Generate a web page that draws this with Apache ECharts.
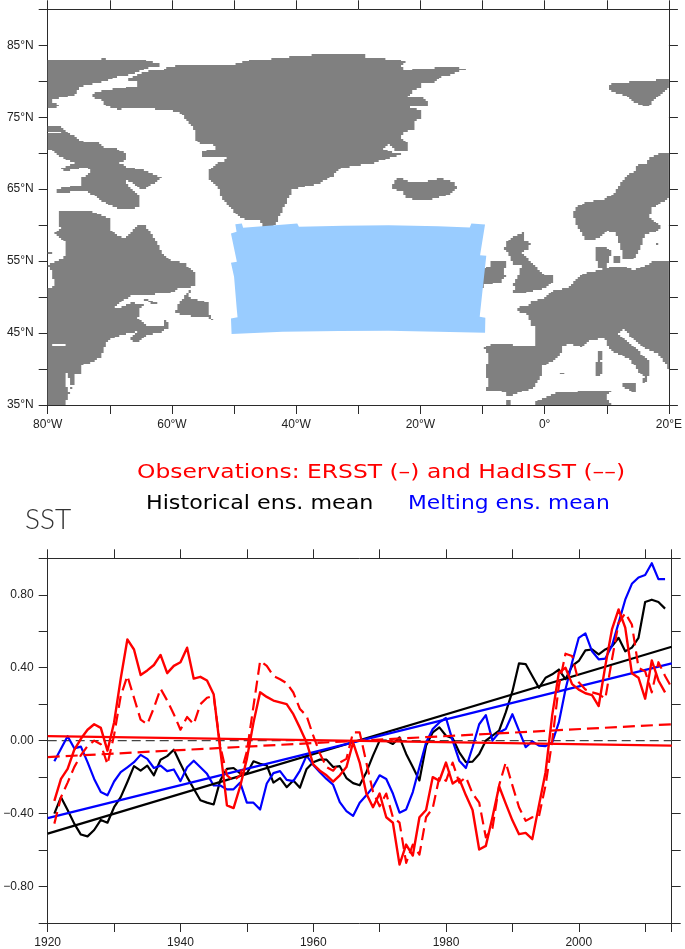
<!DOCTYPE html>
<html>
<head>
<meta charset="utf-8">
<style>html,body{margin:0;padding:0;background:#fff}#c{width:685px;height:949px}</style>
<script src="https://cdn.jsdelivr.net/npm/echarts@6/dist/echarts.min.js"></script>
</head>
<body>
<div id="c"></div>
<script>
// ---------- land outlines, [lon, lat] ----------
const ellesmere=[[-80,83.06],[-71.35,83.06],[-71.08,83.33],[-70.28,83.06],[-64.13,82.96],[-63.87,82.73],[-62,82.5],[-61.6,82.18],[-62.5,82.04],[-64.13,81.8],[-65.2,81.34],[-67.07,80.88],[-69.2,80.56],[-70.8,79.95],[-72.4,79.72],[-74.8,79.26],[-75.6,78.1],[-79.1,77.5],[-79.36,76.94],[-78.3,76.85],[-78.3,76.4],[-80,76.25]];
const greenland=[[-60.66,82.04],[-57.46,82.27],[-53.98,82.36],[-51.05,82.13],[-48.1,82.73],[-47.04,82.96],[-44.1,83.06],[-43.84,83.33],[-37.7,83.43],[-37.43,83.66],[-33.15,83.66],[-29,83.66],[-28.9,83.33],[-25.67,83.2],[-25.6,82.96],[-23,82.87],[-22.3,82.5],[-23.3,82.27],[-22.5,81.44],[-20.86,81.7],[-17.9,81.7],[-17.66,82],[-13.9,81.94],[-12.6,81.57],[-13.9,81.34],[-15.25,80.88],[-16.6,80.74],[-17.4,80.2],[-17.9,79.8],[-19.8,79.8],[-20.06,79.03],[-21.1,78.8],[-21.9,77.87],[-19.8,77.87],[-18.7,77.18],[-18.7,76.57],[-19.5,76.5],[-21.9,76.5],[-19.8,75.8],[-20.06,74.86],[-20.86,74.4],[-21,73.33],[-22.5,73],[-23.3,72.08],[-21.9,71.3],[-21.9,70.37],[-24.07,70.37],[-25.1,71.3],[-26.2,70.56],[-24.3,70.1],[-23,69.9],[-25.9,69.07],[-27.5,68.6],[-30.5,68.3],[-33.15,67.8],[-34.2,66.76],[-36.36,65.83],[-40.63,64.9],[-42.2,62.08],[-43.57,59.77],[-45.17,59.77],[-45.97,60.7],[-48.9,60.93],[-50.25,62.08],[-52.1,63.98],[-52.65,65.37],[-54,66.3],[-54.25,67.45],[-52.9,68.6],[-51.58,68.84],[-51.3,69.54],[-55.05,69.44],[-55.3,70.23],[-52.38,70.7],[-54,71.3],[-56,71.4],[-56.23,73],[-57.46,74.4],[-58.5,75.56],[-60.4,76],[-64.94,76.25],[-68.94,76.1],[-70.8,76.7],[-71.35,77.4],[-72.68,77.64],[-72.95,78.24],[-71.08,78.7],[-65.47,79.35],[-65.47,79.95],[-67.6,80.18],[-65.47,80.88],[-63.6,81.48],[-61.46,81.57]];
const baffin=[[-80,73.7],[-78.02,73.7],[-76.7,72.87],[-74.8,71.85],[-73.75,71.4],[-71.9,71.6],[-71.1,70.9],[-68.94,70.7],[-67.6,70],[-67.34,69.07],[-68.4,68.6],[-67.07,68],[-64.67,67.7],[-61.73,66.6],[-62.53,66.07],[-64.4,65],[-65.2,65.14],[-65.74,65.6],[-67.6,66.3],[-67.07,65.37],[-65.2,64],[-65.2,62.6],[-66.8,62.13],[-68.4,62.13],[-71.6,63.5],[-73.5,64.67],[-74.8,64.8],[-78.3,64.44],[-78.66,65],[-76.95,65.3],[-74.55,65.6],[-74.8,66.53],[-73.2,67.22],[-73.5,68.15],[-77.5,67.45],[-77.75,67.9],[-75.6,68.6],[-77.5,69.3],[-78.3,69.77],[-79.6,70.46],[-80,70.46]];
const northAmerica=[[-78.3,62.08],[-73.2,62.08],[-70,60.93],[-70,59.3],[-68.14,58.3],[-67.07,58.4],[-65.74,59.86],[-64.4,60],[-63.07,58.6],[-62.26,57.45],[-61.73,56.3],[-60.4,55.14],[-58,54.77],[-56.4,53.5],[-56.4,51.44],[-58.8,51.2],[-60.4,50.5],[-64.67,50.28],[-66.54,50.28],[-69.2,48.66],[-69.2,48.33],[-66.27,49.2],[-64.67,48.9],[-65.2,48.2],[-65.47,47],[-64.13,46.1],[-61.46,46.1],[-61.2,46.9],[-60.4,46.1],[-60.4,45.65],[-62,45.05],[-64.13,44.72],[-65.74,43.66],[-66.54,43.94],[-66.54,44.6],[-65.2,45.3],[-66.54,45.05],[-68.94,44.5],[-70.54,43.8],[-71.35,41.7],[-73.2,40.8],[-74.55,40.55],[-74.55,39.4],[-75.6,39.17],[-75.8,37.78],[-76.3,37.08],[-76.95,35.7],[-77.2,35],[-80,35],[-80,51.2],[-79.1,51.44],[-79.1,52.6],[-79.6,54.2],[-80,54.44],[-77.5,55.37],[-76.95,56.53],[-76.95,57.45],[-78.8,58.84],[-78,59.54]];
const newfoundland=[[-56.66,51.5],[-57.46,49.95],[-54,49.2],[-54,47.73],[-53.34,46.7],[-54.25,47.27],[-55.6,47.17],[-59.6,47.73],[-58.8,49.12],[-58.26,49.8]];
const anticosti=[[-64.67,49.9],[-62.26,49.1],[-63.07,48.94],[-64.56,49.7]];
const belcher=[[-80,56.35],[-79.36,56.35],[-79.36,56.05],[-80,56.05]];
const iceland=[[-23.96,66.3],[-23.27,66.53],[-21.66,66.06],[-19.26,66.06],[-16.6,66.53],[-14.45,65.83],[-14,65.14],[-15.5,64.2],[-18.7,63.5],[-20.3,63.5],[-22.46,63.75],[-22.73,64.8],[-24.34,64.9],[-24.6,65.6]];
const svalbard=[[10.65,79.72],[15.2,79.95],[17.6,79.95],[18.13,80.28],[20,80.28],[20,79.03],[18.93,78.33],[17.6,77.4],[16.53,76.4],[14.4,77.03],[12.8,78.1],[10.65,78.57],[10.4,79.03]];
const scandinavia=[[20,70],[18.4,70],[16.8,69.3],[16.5,68.6],[14.9,68.38],[14.66,67.45],[13.3,67],[12.25,65.83],[11.45,64.67],[9.58,63.5],[6.9,63.3],[5.3,62.6],[4.67,61.9],[4.87,60.46],[6.64,58],[8.5,58.15],[10.22,59.2],[11.44,58.84],[12.25,57],[12.5,55.37],[14.1,55.14],[15.18,56.3],[15.72,57.45],[16,58.6],[18.4,59.3],[18.66,60],[16.8,61.16],[17.3,62.08],[17.33,62.36],[20,63.75]];
const jutland=[[8.08,57],[9.84,57],[10.64,56.3],[10.38,55.14],[9.84,54],[8.77,54],[8.24,55.37]];
const zealand=[[10.9,55.8],[12.25,55.8],[12.25,54.7],[10.9,54.7]];
const gotland=[[17.95,57.6],[18.3,57.6],[18.3,57.3],[17.95,57.3]];
const europe=[[20,54.9],[17.32,54.9],[16.25,54.44],[14.12,53.75],[13.3,54.12],[11.18,54.3],[8.77,53.75],[6.37,53.3],[4.77,52.13],[3.7,51.2],[1.56,51],[-0.04,49.8],[-2.18,49.5],[-2.44,48.9],[-4.58,48.56],[-4.58,48.1],[-2.7,47.5],[-2.18,46.1],[-1.38,45.88],[-1.64,43.33],[-5.1,43.33],[-5.1,43.56],[-8.6,43.56],[-9.66,42.87],[-9.12,42.18],[-9.4,39.4],[-9.12,38],[-9.4,37.08],[-6.45,36.85],[-5.92,36.16],[-4.58,36.62],[-1.9,37.3],[-0.57,39.17],[-0.57,40.32],[1.56,41.25],[2.63,42.18],[2.9,43.2],[3.97,43.56],[5.84,43.1],[7.44,44],[9.58,44.26],[10.64,42.64],[13.85,41.25],[14.92,39.86],[15.98,38.94],[15.72,38],[16.25,38],[16.8,39.4],[17.05,40.8],[14.92,42.64],[13.3,43.8],[11.87,44.95],[12.78,45.5],[14.12,44.26],[16,42.87],[18.12,42.18],[19.82,40.32],[20,39.86]];
const britain=[[-5.92,57.9],[-5.1,58.38],[-3.5,58.94],[-3.5,57.7],[-2.28,57.6],[-2.7,56.53],[-3.78,56.3],[-1.64,54.44],[-0.04,53.05],[1.3,52.92],[1.3,52.13],[0.23,51.2],[-1.1,51.06],[-3.5,50.5],[-5.38,50.37],[-4.58,51.34],[-5.27,51.67],[-4.3,52.82],[-4.05,53.75],[-3.5,54.44],[-4.85,54.44],[-5.38,55.14],[-5.92,56.3],[-6.6,56.53]];
const ireland=[[-8.85,54.9],[-6.18,54.9],[-6,54.2],[-6.72,53.75],[-6.3,52.82],[-7,52.13],[-9.66,51.67],[-9.92,51.34],[-10.72,51.67],[-9.92,53.05],[-10.2,54],[-8.85,54.2]];
const corsica=[[8.4,42.64],[9.3,42.4],[9.04,41],[8.4,41.25]];
const sardinia=[[8.08,40.93],[9.3,40.93],[9.3,39.17],[8.08,38.94]];
const mallorca=[[2.36,39.55],[3.06,39.55],[3.06,39.3],[2.36,39.3]];
const sicily=[[12.35,37.9],[14.65,38],[14.65,36.6],[13.58,37.08],[12.5,37.55]];
const algeria=[[-1.64,35],[-1.1,35.7],[1.56,36.62],[4.23,36.76],[5.84,36.94],[10.64,36.94],[10,36.16],[10.64,35]];
const morocco=[[-6.3,35.7],[-5.65,35.7],[-5.27,35],[-6.3,35]];
const ontarioLake=[[-79.36,43.58],[-77,43.58],[-77,43.3],[-79.36,43.3]];
const chesapeake=[[-76.95,39.4],[-76.7,39.4],[-76.4,38],[-76.1,37.78],[-76.7,36.6],[-76.95,37.5]];
const baffinLake=[[-80,72.95],[-78,73.05],[-78,72.75],[-80,72.65]];
const landShapes=[ellesmere,greenland,baffin,northAmerica,newfoundland,anticosti,belcher,iceland,svalbard,scandinavia,jutland,zealand,gotland,europe,britain,ireland,corsica,sardinia,mallorca,sicily,algeria,morocco];
const lakeShapes=[ontarioLake,chesapeake,baffinLake];
// ---------- SST averaging region ----------
const regionOutline=[[-49.8,60.14],[-48.75,60.23],[-48.54,59.63],[-39.83,60.23],[-39.56,59.77],[-32.35,59.9],[-25.15,60],[-17.13,59.86],[-12.06,59.68],[-11.8,60.23],[-9.6,60.1],[-10.4,55.83],[-9.4,55.74],[-10.46,47.27],[-9.55,47.13],[-9.6,45.05],[-17.13,45.18],[-25.15,45.32],[-33.16,45.28],[-42.23,45.18],[-50.4,44.86],[-50.5,47.04],[-49.44,47.18],[-49.6,48.66],[-50,52.82],[-50.5,54.77],[-49.55,54.9],[-50.5,58.84],[-49.6,59.07]];
// ---------- time series, 1921..2013 ----------
const startYear=1921;
const ersst=[-.33,-.21,-.155,-.05,.01,.06,.09,.07,-.055,.10,.34,.555,.50,.36,.385,.415,.47,.37,.41,.43,.51,.34,.35,.33,.255,-.05,-.355,-.37,-.25,-.10,.10,.265,.24,.22,.21,.20,.145,.07,-.01,-.13,-.165,-.19,-.225,-.19,-.145,-.01,-.12,-.29,-.365,-.29,-.42,-.45,-.68,-.57,-.63,-.42,-.38,-.20,-.22,-.12,-.235,-.21,-.30,-.38,-.597,-.577,-.42,-.25,-.345,-.437,-.513,-.506,-.54,-.355,-.173,.14,.373,.40,.31,.28,.26,.25,.19,.41,.61,.72,.62,.37,.345,.23,.44,.33,.265];
const hadisst=[-.455,-.31,-.23,-.145,-.08,-.03,0,-.02,-.13,.03,.245,.355,.235,.115,.09,.18,.285,.22,.145,.06,.13,.09,.20,.235,.245,-.03,-.19,-.22,-.19,-.06,.19,.437,.41,.355,.337,.315,.264,.173,.136,.027,-.07,-.145,-.165,-.12,-.10,.045,.045,-.12,-.28,-.36,-.29,-.42,-.45,-.67,-.57,-.625,-.42,-.37,-.20,-.22,-.12,-.23,-.20,-.29,-.34,-.53,-.48,-.245,-.12,-.245,-.365,-.44,-.42,-.415,-.245,0,.30,.477,.464,.32,.28,.265,.255,.23,.445,.645,.70,.637,.40,.38,.265,.43,.355,.29];
const historical=[-.40,-.31,-.38,-.455,-.515,-.525,-.49,-.435,-.45,-.365,-.31,-.227,-.14,-.164,-.137,-.19,-.105,-.085,-.05,-.127,-.20,-.264,-.327,-.34,-.35,-.218,-.155,-.15,-.18,-.18,-.113,-.127,-.136,-.23,-.205,-.255,-.218,-.258,-.155,-.118,-.104,-.104,-.145,-.14,-.205,-.233,-.245,-.173,-.082,0,0,-.018,.018,-.073,-.145,-.218,-.027,.045,.073,.027,.013,-.064,-.118,-.115,-.073,0,.027,.055,.155,.27,.424,.42,.355,.29,.345,.364,.39,.337,.41,.437,.495,.50,.473,.50,.518,.564,.49,.51,.564,.76,.773,.76,.724];
const melting=[-.113,-.045,.024,-.042,-.033,-.118,-.21,-.282,-.30,-.224,-.173,-.146,-.118,-.078,-.10,-.15,-.137,-.167,-.158,-.222,-.146,-.11,-.146,-.182,-.246,-.246,-.267,-.267,-.23,-.34,-.34,-.378,-.235,-.178,-.167,-.215,-.222,-.164,-.082,-.133,-.173,-.21,-.242,-.337,-.386,-.413,-.34,-.30,-.255,-.19,-.21,-.29,-.395,-.377,-.282,-.145,-.01,.064,.10,.124,0,-.11,-.15,-.036,.09,.14,0,.045,.064,.145,.055,-.036,-.004,-.027,-.03,-.01,.10,.28,.43,.564,.588,.49,.446,.45,.52,.646,.773,.86,.895,.908,.973,.886,.886];
// trend end values at 1920 and 2014
const trendYears=[1920,2014];
const ersstTrend=[.025,-.027];
const hadisstTrend=[-.09,.09];
const historicalTrend=[-.51,.515];
const meltingTrend=[-.425,.424];
// ---------- axis text ----------
const lonTicks={'-80':'80°W','-60':'60°W','-40':'40°W','-20':'20°W','0':'0°','20':'20°E'};
const latTicks={35:'35°N',45:'45°N',55:'55°N',65:'65°N',75:'75°N',85:'85°N'};
const valTicks={'-80':'\u22120.80','-40':'\u22120.40','0':'0.00','40':'0.40','80':'0.80'};
const yearTicks={1920:'1920',1940:'1940',1960:'1960',1980:'1980',2000:'2000'};

// land mask on the model grid
const dLon=0.36,dLat=0.25,nCols=278,nRows=220;
function spans(poly,lat){
  const xs=[];
  for(let i=0;i<poly.length;i++){
    const a=poly[i],b=poly[(i+1)%poly.length];
    if((a[1]>lat)!==(b[1]>lat)) xs.push(a[0]+(lat-a[1])/(b[1]-a[1])*(b[0]-a[0]));
  }
  xs.sort((p,q)=>p-q);
  return xs;
}
const landRuns=[];
for(let r=0;r<nRows;r++){
  const lat=35+(r+.5)*dLat,row=new Uint8Array(nCols);
  const paint=(shapes,val)=>shapes.forEach(p=>{
    const xs=spans(p,lat);
    for(let k=0;k+1<xs.length;k+=2){
      const c0=Math.round((xs[k]+80)/dLon),c1=Math.round((xs[k+1]+80)/dLon);
      for(let c=Math.max(0,c0);c<Math.min(nCols,c1);c++) row[c]=val;
    }
  });
  paint(landShapes,1);paint(lakeShapes,0);
  let c=0;
  while(c<nCols){
    if(row[c]){let e=c;while(e<nCols&&row[e])e++;
      landRuns.push([-80+c*dLon,Math.min(20,-80+e*dLon),35+r*dLat,35+(r+1)*dLat]);c=e;}
    else c++;
  }
}
const series2=(vals)=>vals.map((v,i)=>[startYear+i,v]);
const trend2=(vals)=>trendYears.map((y,i)=>[y,vals[i]]);
const INK='#2b2b2b',FONT='"Liberation Sans"';
const lineS=(name,data,color,w,type)=>({name,type:'line',xAxisIndex:2,yAxisIndex:2,data,showSymbol:false,symbol:'none',
  silent:true,animation:false,lineStyle:{color,width:w,type:type||'solid',join:'round'},z:3});
const axisCommon={axisLine:{show:true,onZero:false,lineStyle:{color:INK,width:1}},axisTick:{show:true,inside:false,length:9,lineStyle:{color:INK,width:1}},splitLine:{show:false},
  axisLabel:{show:false}};
const lab=(map,margin)=>({show:true,margin,color:'#222',fontFamily:FONT,fontSize:12,showMinLabel:true,showMaxLabel:true,hideOverlap:false,interval:0,
  formatter:v=>{const k=String(Math.round(v));return map[k]!==undefined?map[k]:'';}});
const option={
  animation:false,backgroundColor:'#fff',
  grid:[{left:47.7,top:9.3,width:624,height:395.7},{left:47.7,top:558.3,width:624,height:366.4}],
  xAxis:[
    Object.assign({},axisCommon,{type:'value',gridIndex:0,min:-80,max:20,interval:10,position:'bottom',axisLabel:lab(lonTicks,14)}),
    Object.assign({},axisCommon,{type:'value',gridIndex:0,min:-80,max:20,interval:10,position:'top'}),
    Object.assign({},axisCommon,{type:'value',gridIndex:1,min:1920,max:2014,interval:10,position:'bottom',axisLabel:lab(yearTicks,14)}),
    Object.assign({},axisCommon,{type:'value',gridIndex:1,min:1920,max:2014,interval:10,position:'top'})
  ],
  yAxis:[
    Object.assign({},axisCommon,{type:'value',gridIndex:0,min:35,max:90,interval:5,position:'left',axisLabel:lab(latTicks,14)}),
    Object.assign({},axisCommon,{type:'value',gridIndex:0,min:35,max:90,interval:5,position:'right'}),
    Object.assign({},axisCommon,{type:'value',gridIndex:1,min:-1,max:1,interval:.2,position:'left',
      axisLabel:Object.assign(lab(valTicks,14),{formatter:v=>{const k=String(Math.round(v*100));return valTicks[k]!==undefined?valTicks[k]:'';}})}),
    Object.assign({},axisCommon,{type:'value',gridIndex:1,min:-1,max:1,interval:.2,position:'right'})
  ],
  graphic:[
    {type:'text',x:137,y:463,scaleX:1.17,style:{text:'Observations: ERSST (\u2013) and HadISST (\u2013\u2013)',fill:'#ff0000',font:'20px "DejaVu Sans"'}},
    {type:'text',x:146,y:494,scaleX:1.11,style:{text:'Historical ens. mean',fill:'#000',font:'20px "DejaVu Sans"'}},
    {type:'text',x:408,y:494,scaleX:1.09,style:{text:'Melting ens. mean',fill:'#0000ff',font:'20px "DejaVu Sans"'}},
    {type:'text',x:25,y:506,style:{text:'SST',fill:'#333',font:'300 28px Lato'}}
  ],
  series:[
    {type:'custom',xAxisIndex:0,yAxisIndex:0,silent:true,animation:false,z:2,data:landRuns,encode:{x:[0,1],y:[2,3]},
      renderItem:(p,api)=>{
        const a=api.coord([api.value(0),api.value(3)]),b=api.coord([api.value(1),api.value(2)]);
        const top=Math.round(a[1]),bot=Math.round(b[1]);
        return {type:'rect',shape:{x:a[0],y:top,width:b[0]-a[0],height:bot-top},style:{fill:'#808080'}};
      }},
    {type:'custom',xAxisIndex:0,yAxisIndex:0,silent:true,animation:false,z:2,data:regionOutline,encode:{x:0,y:1},
      renderItem:(p,api)=>{
        if(p.dataIndex!==0) return null;
        return {type:'polygon',shape:{points:regionOutline.map(q=>api.coord(q))},style:{fill:'#99ccff'}};
      }},
    lineS('zero',[[1920,0],[2014,0]],'#444',1.2,[9,5]),
    lineS('Historical',series2(historical),'#000',2.2),
    lineS('Melting',series2(melting),'#0000ff',2.2),
    lineS('Historical trend',trend2(historicalTrend),'#000',2.2),
    lineS('Melting trend',trend2(meltingTrend),'#0000ff',2.2),
    lineS('HadISST',series2(hadisst),'#ff0000',2.2,[12,6]),
    lineS('HadISST trend',trend2(hadisstTrend),'#ff0000',2.2,[12,6]),
    lineS('ERSST',series2(ersst),'#ff0000',2.4),
    lineS('ERSST trend',trend2(ersstTrend),'#ff0000',2.2)
  ]
};
echarts.init(document.getElementById('c'),null,{renderer:'canvas'}).setOption(option);
</script>
</body>
</html>
